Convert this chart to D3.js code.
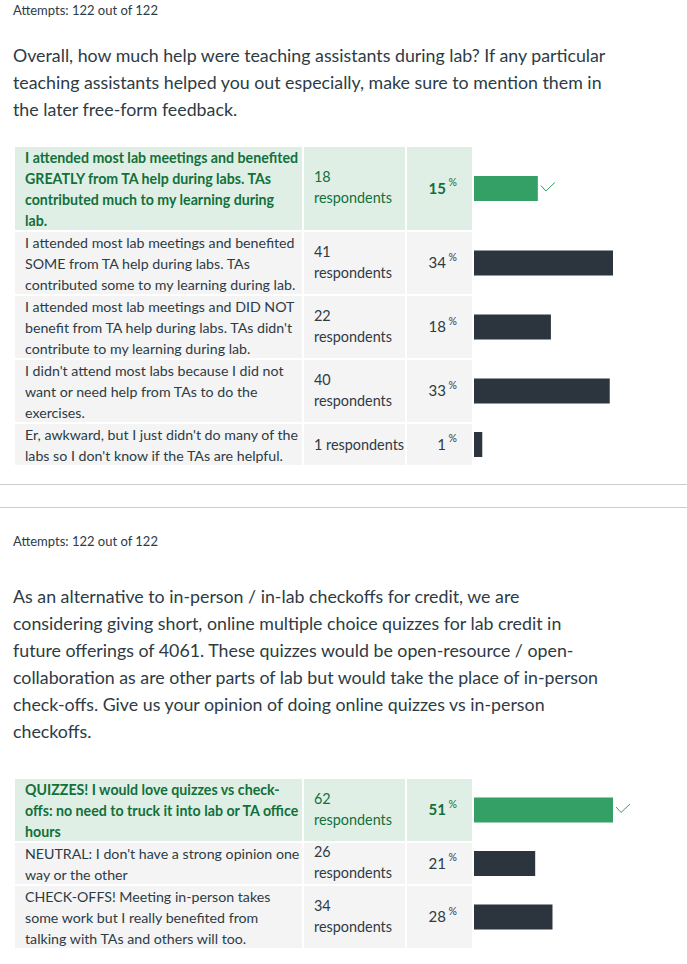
<!DOCTYPE html>
<html>
<head>
<meta charset="UTF-8">
<title>Quiz statistics</title>
<script src="https://d3js.org/d3.v7.min.js"></script>
<style>
  body { margin: 0; background: #fff; }
  svg text { font-family: Lato, "Open Sans", sans-serif; }
</style>
</head>
<body>
<div id="chart"></div>
<script>

// question 1
var q1Attempts = "Attempts: 122 out of 122";
var q1Question = [
  "Overall, how much help were teaching assistants during lab? If any particular",
  "teaching assistants helped you out especially, make sure to mention them in",
  "the later free-form feedback."
];
var q1Answers = [
  ["I attended most lab meetings and benefited", "GREATLY from TA help during labs. TAs", "contributed much to my learning during", "lab."],
  ["I attended most lab meetings and benefited", "SOME from TA help during labs. TAs", "contributed some to my learning during lab."],
  ["I attended most lab meetings and DID NOT", "benefit from TA help during labs. TAs didn't", "contribute to my learning during lab."],
  ["I didn't attend most labs because I did not", "want or need help from TAs to do the", "exercises."],
  ["Er, awkward, but I just didn't do many of the", "labs so I don't know if the TAs are helpful."]
];
var q1Counts = [18, 41, 22, 40, 1];
var q1Percents = [15, 34, 18, 33, 1];
var q1Correct = 0;

// question 2
var q2Attempts = "Attempts: 122 out of 122";
var q2Question = [
  "As an alternative to in-person / in-lab checkoffs for credit, we are",
  "considering giving short, online multiple choice quizzes for lab credit in",
  "future offerings of 4061. These quizzes would be open-resource / open-",
  "collaboration as are other parts of lab but would take the place of in-person",
  "check-offs. Give us your opinion of doing online quizzes vs in-person",
  "checkoffs."
];
var q2Answers = [
  ["QUIZZES! I would love quizzes vs check-", "offs: no need to truck it into lab or TA office", "hours"],
  ["NEUTRAL: I don't have a strong opinion one", "way or the other"],
  ["CHECK-OFFS! Meeting in-person takes", "some work but I really benefited from", "talking with TAs and others will too."]
];
var q2Counts = [62, 26, 34];
var q2Percents = [51, 21, 28];
var q2Correct = 0;

var width = 687, height = 964;
var textColor = "#2d3b45", greenText = "#12703a", greenBg = "#e0efe6", greyBg = "#f4f4f4";
var greenBar = "#35a065", darkBar = "#2c343e";

var svg = d3.select("#chart").append("svg")
    .attr("width", width)
    .attr("height", height);

// column edges
var colAnswer = 15, colResp = 303, colPct = 406, colEnd = 472, barX = 474;
var lineH = 21;

function drawQuestion(attemptsY, questionY, attempts, question, answers, counts, percents, correct, tableTop) {
  var g = svg.append("g");

  g.append("text")
    .attr("x", 13).attr("y", attemptsY)
    .attr("font-size", 13).attr("fill", textColor)
    .text(attempts);

  g.selectAll(".qline").data(question).enter().append("text")
    .attr("x", 13)
    .attr("y", function(d, i) { return questionY + i * 27; })
    .attr("font-size", 17.8).attr("fill", textColor)
    .text(function(d) { return d; });

  // row positions
  var rows = [];
  var y = tableTop;
  answers.forEach(function(a, i) {
    var h = a.length * lineH - 1;
    rows.push({ lines: a, top: y, h: h, count: counts[i], pct: percents[i], ok: i === correct });
    y += h + 2;
  });

  var x = d3.scaleLinear()
    .domain([0, d3.max(counts)])
    .range([5, 139]);

  var row = g.selectAll(".row").data(rows).enter().append("g");

  // cell backgrounds
  [[colAnswer, colResp - 1], [colResp + 1, colPct - 1], [colPct + 1, colEnd]].forEach(function(c) {
    row.append("rect")
      .attr("x", c[0]).attr("y", function(d) { return d.top; })
      .attr("width", c[1] - c[0]).attr("height", function(d) { return d.h; })
      .attr("fill", function(d) { return d.ok ? greenBg : greyBg; });
  });

  row.each(function(d) {
    var r = d3.select(this);
    var col = d.ok ? greenText : textColor;

    // answer text
    r.selectAll(".ans").data(d.lines).enter().append("text")
      .attr("x", 25)
      .attr("y", function(l, i) { return d.top + 16 + i * lineH; })
      .attr("font-size", 14.2)
      .attr("font-weight", d.ok ? "bold" : "normal")
      .attr("fill", col)
      .text(function(l) { return l; });

    // respondents
    var mid = d.top + d.h / 2;
    var resp = d.count + " respondents";
    var respLines = resp.length > 13 ? [String(d.count), "respondents"] : [resp];
    r.selectAll(".resp").data(respLines).enter().append("text")
      .attr("x", 314)
      .attr("y", function(l, i) { return respLines.length > 1 ? mid - 6.5 + i * lineH : mid + 5; })
      .attr("font-size", 14.4)
      .attr("fill", col)
      .text(function(l) { return l; });

    // percent
    r.append("text")
      .attr("x", 446).attr("y", mid + 5)
      .attr("text-anchor", "end")
      .attr("font-size", 15)
      .attr("font-weight", d.ok ? "bold" : "normal")
      .attr("fill", col)
      .text(d.pct);
    r.append("text")
      .attr("x", 448.5).attr("y", mid - 2.5)
      .attr("font-size", 10.5)
      .attr("fill", col)
      .text("%");
  });

  // bars
  row.append("rect")
    .attr("x", barX)
    .attr("y", function(d) { return d.top + d.h / 2 - 12.5; })
    .attr("width", function(d) { return x(d.count); })
    .attr("height", 25)
    .attr("fill", function(d) { return d.ok ? greenBar : darkBar; });

  // check mark next to correct answer
  row.filter(function(d) { return d.ok; }).append("path")
    .attr("d", function(d) {
      var cx = barX + x(d.count) + 3, cy = d.top + d.h / 2;
      return "M" + cx + "," + (cy - 3) + "L" + (cx + 5) + "," + (cy + 2.5) + "L" + (cx + 14) + "," + (cy - 6);
    })
    .attr("fill", "none")
    .attr("stroke", greenBar)
    .attr("stroke-width", 1);
}

drawQuestion(15, 62, q1Attempts, q1Question, q1Answers, q1Counts, q1Percents, q1Correct, 147);

// separators between questions
[484.5, 507.5].forEach(function(yy) {
  svg.append("line")
    .attr("x1", 0).attr("x2", width)
    .attr("y1", yy).attr("y2", yy)
    .attr("stroke", "#c7cdd1").attr("stroke-width", 1);
});

drawQuestion(546, 603, q2Attempts, q2Question, q2Answers, q2Counts, q2Percents, q2Correct, 779);

</script>
</body>
</html>
